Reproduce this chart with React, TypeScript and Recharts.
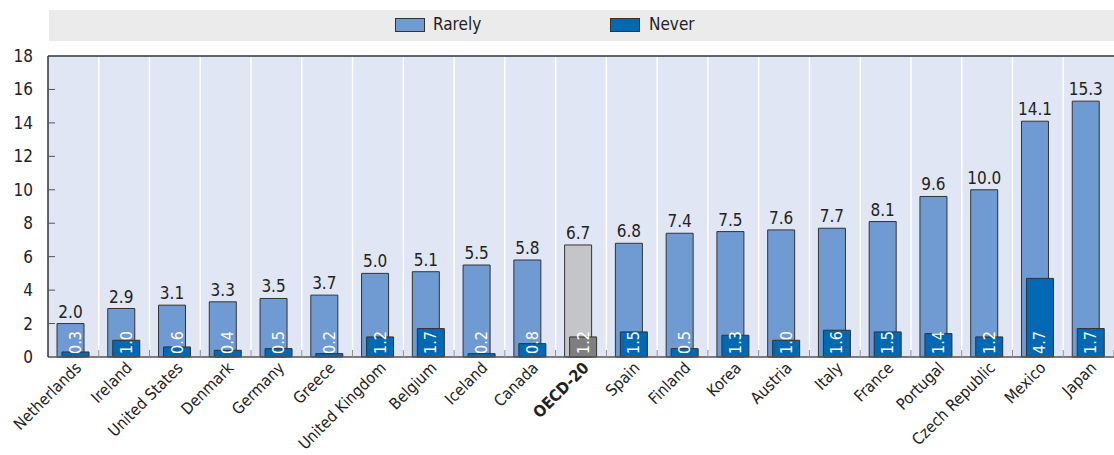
import React from "react";
import {
  BarChart,
  Bar,
  XAxis,
  YAxis,
  CartesianGrid,
  ReferenceLine,
  LabelList,
  Cell,
} from "recharts";

const countries = [
  "Netherlands", "Ireland", "United States", "Denmark", "Germany", "Greece",
  "United Kingdom", "Belgium", "Iceland", "Canada", "OECD-20", "Spain",
  "Finland", "Korea", "Austria", "Italy", "France", "Portugal",
  "Czech Republic", "Mexico", "Japan",
];
const rarely = [2.0, 2.9, 3.1, 3.3, 3.5, 3.7, 5.0, 5.1, 5.5, 5.8, 6.7, 6.8, 7.4, 7.5, 7.6, 7.7, 8.1, 9.6, 10.0, 14.1, 15.3];
const never = [0.3, 1.0, 0.6, 0.4, 0.5, 0.2, 1.2, 1.7, 0.2, 0.8, 1.2, 1.5, 0.5, 1.3, 1.0, 1.6, 1.5, 1.4, 1.2, 4.7, 1.7];
const yTicks = [0, 2, 4, 6, 8, 10, 12, 14, 16, 18];
const HIGHLIGHT = "OECD-20";

const data = countries.map((c, i) => ({ name: c, rarely: rarely[i], never: never[i] }));

const W = 1114;
const H = 455;
const Y_W = 48;
const X_H = 98;
const M = { top: 56, right: 0, bottom: 0, left: 0 };
const plotW = W - Y_W;
const band = plotW / countries.length;
const FONT = "'Liberation Sans Narrow', 'Arial Narrow', 'DejaVu Sans Condensed', 'Liberation Sans', sans-serif";

const RARELY = "#6f9bd2";
const NEVER = "#0168b3";
const GREY1 = "#c4c5c7";
const GREY2 = "#7f7f7f";

const YTick = (props: any) => {
  const { y, payload } = props;
  return (
    <g>
      {payload.value !== 0 && payload.value !== 18 && (
        <line x1={Y_W} x2={Y_W + 7} y1={y} y2={y} stroke="#555" />
      )}
      <text x={33} y={y} textAnchor="end" dominantBaseline="central" fontSize={17} fill="#222" fontFamily={FONT}>
        {payload.value}
      </text>
    </g>
  );
};

const XTick = (props: any) => {
  const { x, payload } = props;
  const bold = payload.value === HIGHLIGHT;
  const base = H - X_H;
  return (
    <g>
      <line x1={x + band / 2} x2={x + band / 2} y1={base} y2={base - 7} stroke="#888" />
      <g transform={`translate(${x + 5},${base + 8})`}>
        <text
          transform="rotate(-45)"
          textAnchor="end"
          dominantBaseline="central"
          fontSize={16}
          fontWeight={bold ? "bold" : "normal"}
          fill="#222"
          fontFamily={FONT}
        >
          {payload.value}
        </text>
      </g>
    </g>
  );
};

const NeverLabel = (props: any) => {
  const { x, y, width, height, value } = props;
  const cx = x + width / 2;
  const bottom = y + height;
  return (
    <text
      transform={`translate(${cx},${bottom - 3}) rotate(-90)`}
      textAnchor="start"
      dominantBaseline="central"
      fontSize={16}
      fill="#fff"
      fontFamily={FONT}
    >
      {value.toFixed(1)}
    </text>
  );
};

const RarelyLabel = (props: any) => {
  const { x, y, width, value } = props;
  return (
    <text x={x + width / 2} y={y - 6} textAnchor="middle" fontSize={17} fill="#222" fontFamily={FONT}>
      {value.toFixed(1)}
    </text>
  );
};

export default function App() {
  return (
    <div style={{ position: "absolute", left: 0, top: 0, width: W, height: H, fontFamily: FONT }}>
      <div
        style={{
          position: "absolute",
          left: 49,
          top: 10,
          width: W - 49,
          height: 31,
          background: "#ebebeb",
        }}
      >
        <div style={{ position: "absolute", left: 346, top: 8, width: 30, height: 14, background: RARELY, border: "1px solid #333", boxSizing: "border-box" }} />
        <div style={{ position: "absolute", left: 384, top: 4, fontSize: 17, color: "#222" }}>Rarely</div>
        <div style={{ position: "absolute", left: 561, top: 8, width: 30, height: 14, background: NEVER, border: "1px solid #333", boxSizing: "border-box" }} />
        <div style={{ position: "absolute", left: 600, top: 4, fontSize: 17, color: "#222" }}>Never</div>
      </div>
      <BarChart width={W} height={H} data={data} margin={M} barSize={27} barGap={-22}>
        <CartesianGrid
          horizontal={false}
          fill="#e0e6f4"
          stroke="#ffffff"
          strokeWidth={1.5}
          verticalCoordinatesGenerator={({ offset }: any) =>
            countries.slice(1).map((_, i) => offset.left + (i + 1) * band)
          }
        />
        <XAxis
          dataKey="name"
          interval={0}
          height={X_H}
          tickLine={false}
          tickSize={0}
          tickMargin={0}
          axisLine={{ stroke: "#555", strokeWidth: 1.5 }}
          tick={<XTick />}
        />
        <YAxis
          domain={[0, 18]}
          ticks={yTicks}
          width={Y_W}
          tickLine={false}
          axisLine={{ stroke: "#333", strokeWidth: 1.5 }}
          tick={<YTick />}
        />
        <ReferenceLine y={18} stroke="#333" strokeWidth={1.5} />
        <Bar dataKey="rarely" fill={RARELY} stroke="#333" strokeWidth={1} isAnimationActive={false}>
          {data.map((d) => (
            <Cell key={d.name} fill={d.name === HIGHLIGHT ? GREY1 : RARELY} />
          ))}
          <LabelList dataKey="rarely" content={<RarelyLabel />} />
        </Bar>
        <Bar dataKey="never" fill={NEVER} stroke="#333" strokeWidth={1} isAnimationActive={false}>
          {data.map((d) => (
            <Cell key={d.name} fill={d.name === HIGHLIGHT ? GREY2 : NEVER} />
          ))}
          <LabelList dataKey="never" content={<NeverLabel />} />
        </Bar>
      </BarChart>
    </div>
  );
}
